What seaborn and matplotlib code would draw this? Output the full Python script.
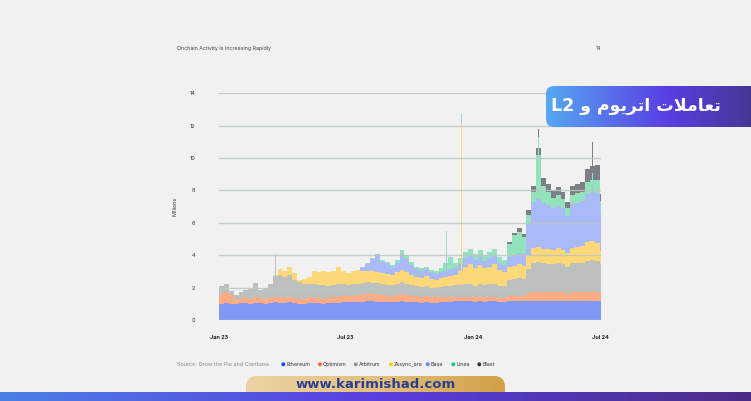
import numpy as np
import pandas as pd
import seaborn as sns
import matplotlib.pyplot as plt
from matplotlib.patches import FancyBboxPatch, Rectangle
from matplotlib.colors import LinearSegmentedColormap

### data (weekly, millions of transactions)
week_start = "2023-01-01"

ethereum = [1.00, 1.05, 1.00, 1.00, 1.05, 1.05, 1.00, 1.05, 1.05, 1.00, 1.05,
            1.10, 1.05, 1.05, 1.10, 1.05, 1.00, 1.00, 1.05, 1.05, 1.05, 1.00, 1.05, 1.05, 1.05,
            1.10, 1.10, 1.10, 1.10, 1.10, 1.15, 1.15, 1.10, 1.10, 1.10, 1.10, 1.10, 1.15, 1.10,
            1.10, 1.10, 1.05, 1.10, 1.05, 1.05, 1.10, 1.10, 1.10, 1.15, 1.15, 1.15, 1.15, 1.10,
            1.15, 1.10, 1.15, 1.15, 1.10, 1.10, 1.15, 1.15, 1.15, 1.15, 1.20, 1.20, 1.20, 1.20,
            1.20, 1.20, 1.20, 1.20, 1.15, 1.20, 1.20, 1.20, 1.20, 1.20, 1.20, 1.15]
optimism = [0.60, 0.70, 0.55, 0.25, 0.30, 0.30, 0.30, 0.35, 0.30, 0.30, 0.30,
            0.35, 0.35, 0.30, 0.35, 0.30, 0.30, 0.30, 0.35, 0.30, 0.35, 0.30, 0.35, 0.35, 0.40,
            0.40, 0.40, 0.40, 0.45, 0.45, 0.45, 0.45, 0.50, 0.45, 0.40, 0.40, 0.45, 0.45, 0.45,
            0.40, 0.40, 0.40, 0.40, 0.35, 0.35, 0.35, 0.35, 0.35, 0.30, 0.30, 0.30, 0.30, 0.30,
            0.30, 0.30, 0.30, 0.30, 0.25, 0.25, 0.35, 0.35, 0.35, 0.35, 0.45, 0.50, 0.55, 0.50,
            0.50, 0.50, 0.50, 0.50, 0.45, 0.50, 0.50, 0.50, 0.55, 0.55, 0.55, 0.50]
arbitrum = [0.50, 0.45, 0.25, 0.30, 0.40, 0.50, 0.60, 0.90, 0.50, 0.65, 0.90,
            1.25, 1.35, 1.30, 1.30, 1.10, 1.05, 0.95, 0.85, 0.85, 0.75, 0.85, 0.70, 0.75, 0.80,
            0.70, 0.65, 0.70, 0.70, 0.75, 0.75, 0.70, 0.70, 0.70, 0.65, 0.65, 0.70, 0.75, 0.70,
            0.65, 0.60, 0.60, 0.60, 0.60, 0.60, 0.60, 0.65, 0.65, 0.70, 0.70, 0.75, 0.75, 0.70,
            0.75, 0.75, 0.75, 0.80, 0.75, 0.75, 1.00, 1.05, 1.10, 1.05, 1.50, 1.85, 1.85, 1.80,
            1.75, 1.75, 1.80, 1.75, 1.70, 1.80, 1.80, 1.85, 1.90, 1.95, 1.90, 1.80]
zksync_era = [0.0] * 11 + [
            0.10, 0.40, 0.35, 0.55, 0.45, 0.15, 0.30, 0.40, 0.85, 0.80, 0.90, 0.85, 0.90, 1.00,
            0.80, 0.75, 0.80, 0.85, 0.75, 0.70, 0.70, 0.65, 0.65, 0.70, 0.65, 0.70, 0.75, 0.70,
            0.60, 0.55, 0.55, 0.60, 0.55, 0.50, 0.55, 0.55, 0.60, 0.65, 0.85, 1.10, 1.25, 1.10,
            1.20, 1.05, 1.10, 1.20, 1.00, 0.85, 0.80, 0.80, 0.85, 0.80, 0.85, 0.90, 0.90, 0.90,
            0.95, 0.90, 0.95, 0.90, 0.85, 0.95, 1.00, 1.00, 1.15, 1.20, 1.10, 0.80]
base = [0.0] * 29 + [
            0.20, 0.40, 0.75, 1.10, 0.70, 0.65, 0.50, 0.60, 0.95, 0.80,
            0.65, 0.50, 0.45, 0.45, 0.40, 0.35, 0.35, 0.40, 0.45, 0.40, 0.45, 0.50, 0.50, 0.50,
            0.50, 0.45, 0.50, 0.50, 0.45, 0.45, 0.60, 0.65, 0.70, 0.75, 1.90, 2.85, 3.00, 2.80,
            2.70, 2.55, 2.60, 2.55, 2.30, 2.70, 2.75, 2.80, 3.00, 3.00, 3.10, 2.55]
linea = [0.0] * 29 + [
            0.05, 0.05, 0.05, 0.05, 0.10, 0.10, 0.10, 0.15, 0.25, 0.25,
            0.20, 0.15, 0.15, 0.15, 0.15, 0.15, 0.25, 0.45, 0.75, 0.30, 0.35, 0.40, 0.45, 0.40,
            0.40, 0.35, 0.40, 0.45, 0.35, 0.30, 0.80, 1.25, 1.30, 1.00, 0.60, 0.60, 2.70, 1.10,
            0.80, 0.65, 0.65, 0.55, 0.45, 0.60, 0.60, 0.55, 0.70, 0.75, 0.80, 0.55]
blast = [0.0] * 59 + [
            0.10, 0.15, 0.25, 0.20, 0.30, 0.40, 0.40, 0.50,
            0.50, 0.45, 0.50, 0.45, 0.40, 0.55, 0.55, 0.60, 0.80, 0.85, 0.95, 0.45]

# single days that stick out above the weekly level
spike_dates = ["2023-03-23", "2023-11-24", "2023-12-15", "2024-04-04", "2024-06-20"]
spike_ethereum = [1.10, 1.10, 1.15, 1.20, 1.20]
spike_optimism = [0.35, 0.35, 0.30, 0.55, 0.55]
spike_arbitrum = [2.60, 0.65, 0.75, 1.85, 1.95]
spike_zksync_era = [0.00, 0.55, 9.90, 0.90, 1.20]
spike_base = [0.00, 1.30, 0.30, 3.00, 3.30]
spike_linea = [0.00, 1.55, 0.30, 3.80, 0.90]
spike_blast = [0.00, 0.00, 0.00, 0.50, 1.90]

chains = ["Ethereum", "Optimism", "Arbitrum", "Zksync_era", "Base", "Linea", "Blast"]
bar_colors = ["#7f98f6", "#ffab86", "#bcc1c0", "#fcd878", "#aab9f8", "#92e2bb", "#7d7f84"]
dot_colors = ["#1a47f5", "#ff6b1a", "#8b9396", "#ffcc00", "#5f86ff", "#14c57a", "#2f3240"]

xtick_dates = ["2023-01-01", "2023-07-01", "2024-01-01", "2024-07-01"]
xtick_labels = ["Jan 23", "Jul 23", "Jan 24", "Jul 24"]
yticks = [0, 2, 4, 6, 8, 10, 12, 14]

title_fa = "تعاملات اتریوم و L2"
# matplotlib does no arabic shaping, so the same words in joined presentation forms, drawn left to right
title_fa_shaped = "L2 \ufeed \ufee1\ufeee\ufef3\ufeae\ufe97\ufe8d \ufe95\ufefc\ufee3\ufe8e\ufecc\ufe97"

### figure
sns.set_theme(style="white")
plt.rcParams["font.family"] = ["Inter", "DejaVu Sans"]

fig = plt.figure(figsize=(7.51, 4.01), dpi=100)
fig.patch.set_facecolor("#f1f1f1")

ax = fig.add_axes([219 / 751, 81 / 401, 382 / 751, 226.7 / 401])
ax.set_facecolor("#f1f1f1")

weekly = [ethereum, optimism, arbitrum, zksync_era, base, linea, blast]
spikes = [spike_ethereum, spike_optimism, spike_arbitrum, spike_zksync_era,
          spike_base, spike_linea, spike_blast]

dates = pd.date_range(week_start, periods=len(ethereum), freq="7D") + pd.Timedelta(hours=84)
bottom = np.zeros(len(dates))
for vals, col in zip(weekly, bar_colors):
    ax.bar(dates, vals, width=7.05, bottom=bottom, color=col, linewidth=0, zorder=2)
    bottom += np.array(vals)

sdates = pd.to_datetime(spike_dates)
sbottom = np.zeros(len(sdates))
for vals, col in zip(spikes, bar_colors):
    ax.bar(sdates, vals, width=1.4, bottom=sbottom, color=col, linewidth=0, zorder=3)
    sbottom += np.array(vals)

for y in yticks:
    ax.axhline(y, color="#bcc6c2", lw=1.0, alpha=0.85, zorder=4)

ax.set_ylim(0, 14)
ax.set_xlim(pd.Timestamp("2023-01-01"), pd.Timestamp("2024-07-02"))
ax.set_yticks(yticks)
ax.set_yticklabels([str(v) for v in yticks], fontsize=4, color="#333333")
ax.set_xticks(pd.to_datetime(xtick_dates))
ax.set_xticklabels(xtick_labels, fontsize=4, color="#222222", fontweight="bold")
ax.tick_params(axis="y", length=0, pad=17)
ax.tick_params(axis="x", length=3, width=0.8, color="#c5cdca", pad=8)
ax.set_ylabel("Millions", fontsize=4, color="#333333", labelpad=9)
sns.despine(ax=ax, left=True, bottom=True, top=True, right=True)

### overlay in pixel coordinates
ov = fig.add_axes([0, 0, 1, 1])
ov.set_zorder(5)
ov.axis("off")


def gradient_box(x, y, w, h, colors, rounding, z):
    patch = FancyBboxPatch((x, y), w, h, boxstyle=f"round,pad=0,rounding_size={rounding}",
                           facecolor="none", edgecolor="none", zorder=z)
    ov.add_patch(patch)
    cmap = LinearSegmentedColormap.from_list("g", colors)
    img = ov.imshow(np.linspace(0, 1, 256).reshape(1, -1), cmap=cmap, aspect="auto",
                    extent=[x, x + w, y + h, y], zorder=z, interpolation="bilinear")
    img.set_clip_path(patch)


# title banner on the right
gradient_box(546, 86, 240, 41, ["#55a8f2", "#5a3fe3", "#3b3573"], 8, 6)
ov.text(636, 106, title_fa_shaped, color="white", fontsize=12.5, fontweight="bold",
        family=["DejaVu Sans"], ha="center", va="center", zorder=7)

# bottom banner and strip
gradient_box(246, 376, 259, 30, ["#ecd3a4", "#e2c07f", "#d1a047"], 11, 6)
ov.imshow(np.linspace(0, 1, 256).reshape(1, -1),
          cmap=LinearSegmentedColormap.from_list("s", ["#4b80e6", "#5a3fe0", "#4b2d86"]),
          aspect="auto", extent=[0, 751, 401, 392], zorder=8)
ov.text(375.5, 384.5, "www.karimishad.com", color="#2c3e91", fontsize=9.5,
        fontweight="bold", family=["DejaVu Sans"], ha="center", va="center", zorder=9)

# small header texts
ov.text(177, 48.7, "Onchain Activity is Increasing Rapidly", fontsize=3.8, color="#444444",
        ha="left", va="center")
ov.text(598, 48.7, "14", fontsize=3.8, color="#444444", ha="center", va="center")

# source and legend
ov.text(177, 364.3, "Source: Grow the Pie and Coinbase", fontsize=4, color="#8a8a8a",
        ha="left", va="center")
dot_x = [283.3, 320, 355.7, 391, 427.7, 453.3, 479.3]
ov.scatter(dot_x, [364.3] * len(dot_x), s=8, c=dot_colors, zorder=7, linewidths=0)
for xx, name in zip(dot_x, chains):
    ov.text(xx + 3, 364.3, name, fontsize=3.8, color="#333333", ha="left", va="center")

ov.set_xlim(0, 751)
ov.set_ylim(401, 0)

fig.savefig("out.png", dpi=100, facecolor=fig.get_facecolor())
